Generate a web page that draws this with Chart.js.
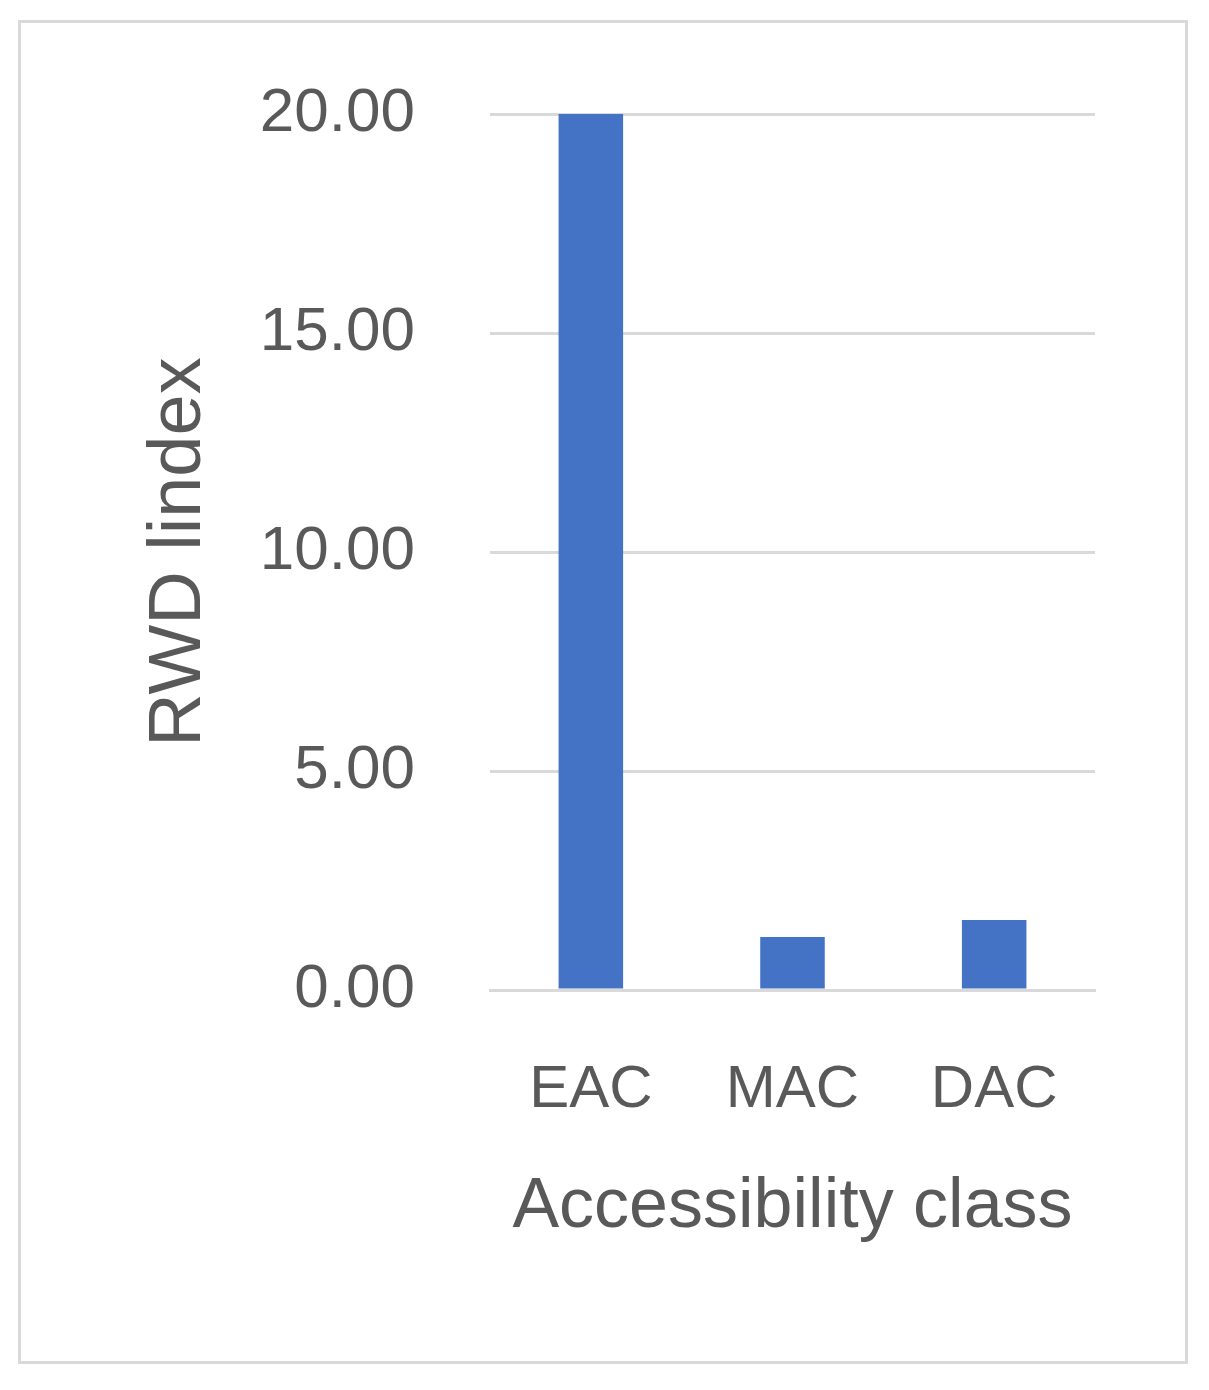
<!DOCTYPE html>
<html><head><meta charset="utf-8">
<script src="https://cdn.jsdelivr.net/npm/chart.js@4"></script>
<style>
html,body{margin:0;padding:0;background:#fff;}
#wrap{position:relative;width:1209px;height:1390px;}
#frame{position:absolute;left:18px;top:20px;width:1164px;height:1338px;border:3px solid #d9d9d9;}
canvas{position:absolute;left:0;top:0;}
</style></head><body>
<div id="wrap"><div id="frame"></div><canvas id="c" width="1209" height="1390"></canvas></div>
<script>
const categories = ["EAC", "MAC", "DAC"];
const rwdValues = [20.0, 1.21, 1.60];
const yTicks = [0, 5, 10, 15, 20];
const xTitle = "Accessibility class";
const yTitle = "RWD lindex";

const grey = "#595959";
const fam = "'Liberation Sans', Arial, sans-serif";
new Chart(document.getElementById('c'), {
  type: 'bar',
  data: { labels: categories, datasets: [{ data: rwdValues, backgroundColor: '#4472c4', barPercentage: 0.32, categoryPercentage: 1 }] },
  options: {
    responsive: false, animation: false, devicePixelRatio: 1,
    layout: { padding: { top: 114, right: 114, bottom: 140, left: 0 } },
    plugins: { legend: { display: false }, tooltip: { enabled: false } },
    scales: {
      x: {
        grid: { display: false },
        border: { color: '#d9d9d9', width: 3 },
        ticks: { color: grey, font: { family: fam, size: 60 }, padding: 56 },
        title: { display: true, text: xTitle, color: grey, font: { family: fam, size: 70 }, padding: { top: 0, bottom: 0 } },
        afterFit: s => { s.height = 260; }
      },
      y: {
        min: 0, max: 20,
        afterBuildTicks: s => { s.ticks = yTicks.map(v => ({ value: v })); },
        grid: { color: '#d9d9d9', lineWidth: 3, drawTicks: false },
        border: { display: false },
        ticks: { color: grey, font: { family: fam, size: 62 }, padding: 75, callback: v => Number(v).toFixed(2) },
        title: { display: true, text: yTitle, color: grey, font: { family: fam, size: 74 }, padding: { top: 135, bottom: 0 } },
        afterFit: s => { s.width = 490; }
      }
    }
  }
});
</script></body></html>
